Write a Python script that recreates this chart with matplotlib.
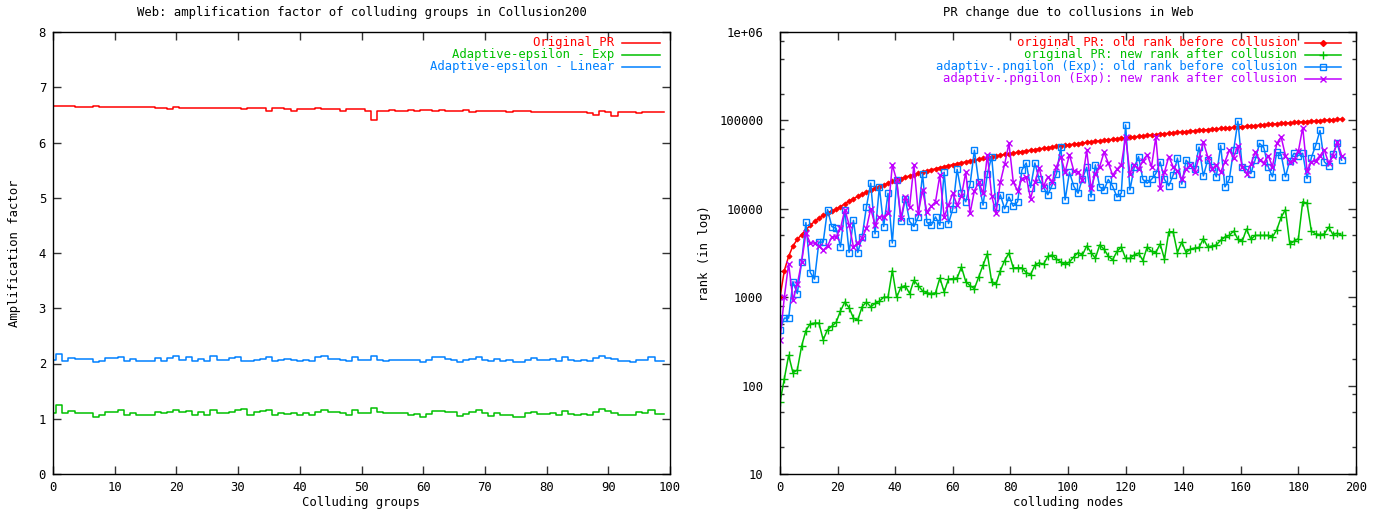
import numpy as np
import matplotlib
matplotlib.use("Agg")
import matplotlib.pyplot as plt
from matplotlib.ticker import FixedLocator, FixedFormatter, NullFormatter

plt.rcParams['font.family'] = ['DejaVu Sans Mono', 'DejaVu Sans']
FS = 8.8

# ---------------- Left chart data ----------------
groups = np.arange(100)
amp_original = [6.66, 6.66, 6.66, 6.66, 6.645, 6.645, 6.645, 6.66, 6.645, 6.645,
                6.645, 6.645, 6.645, 6.645, 6.645, 6.645, 6.645, 6.62, 6.62, 6.60,
                6.645, 6.62, 6.62, 6.62, 6.62, 6.62, 6.62, 6.62, 6.62, 6.62,
                6.62, 6.60, 6.62, 6.62, 6.62, 6.575, 6.62, 6.62, 6.60, 6.575,
                6.60, 6.60, 6.60, 6.62, 6.60, 6.60, 6.60, 6.575, 6.60, 6.60,
                6.60, 6.575, 6.40, 6.575, 6.575, 6.59, 6.575, 6.575, 6.59, 6.575,
                6.59, 6.59, 6.575, 6.59, 6.575, 6.575, 6.575, 6.59, 6.56, 6.575,
                6.575, 6.575, 6.575, 6.575, 6.56, 6.575, 6.575, 6.575, 6.56, 6.56,
                6.56, 6.545, 6.56, 6.56, 6.56, 6.56, 6.56, 6.54, 6.50, 6.57,
                6.545, 6.48, 6.555, 6.555, 6.555, 6.54, 6.555, 6.555, 6.555, 6.555]
amp_exp = [1.10, 1.25, 1.10, 1.14, 1.10, 1.10, 1.10, 1.04, 1.07, 1.12,
           1.12, 1.15, 1.06, 1.10, 1.07, 1.06, 1.06, 1.12, 1.10, 1.13,
           1.16, 1.13, 1.14, 1.07, 1.12, 1.07, 1.16, 1.10, 1.10, 1.13,
           1.16, 1.18, 1.07, 1.12, 1.14, 1.16, 1.06, 1.10, 1.08, 1.10,
           1.06, 1.10, 1.06, 1.13, 1.16, 1.12, 1.12, 1.10, 1.06, 1.15,
           1.10, 1.10, 1.19, 1.12, 1.11, 1.10, 1.10, 1.10, 1.07, 1.08,
           1.04, 1.08, 1.14, 1.14, 1.13, 1.12, 1.05, 1.08, 1.12, 1.15,
           1.10, 1.05, 1.10, 1.06, 1.07, 1.04, 1.04, 1.10, 1.13, 1.08,
           1.08, 1.10, 1.06, 1.14, 1.08, 1.07, 1.08, 1.07, 1.13, 1.18,
           1.14, 1.10, 1.06, 1.06, 1.06, 1.12, 1.11, 1.16, 1.08, 1.08]
amp_linear = [2.06, 2.18, 2.05, 2.10, 2.08, 2.08, 2.08, 2.02, 2.05, 2.10,
              2.10, 2.11, 2.04, 2.08, 2.05, 2.04, 2.04, 2.10, 2.05, 2.10,
              2.13, 2.06, 2.11, 2.05, 2.08, 2.05, 2.13, 2.06, 2.06, 2.10,
              2.11, 2.05, 2.04, 2.06, 2.08, 2.11, 2.04, 2.06, 2.08, 2.06,
              2.04, 2.06, 2.04, 2.11, 2.13, 2.08, 2.08, 2.06, 2.05, 2.11,
              2.06, 2.06, 2.13, 2.06, 2.05, 2.06, 2.055, 2.055, 2.055, 2.055,
              2.02, 2.06, 2.11, 2.11, 2.08, 2.06, 2.02, 2.06, 2.08, 2.11,
              2.06, 2.04, 2.08, 2.05, 2.06, 2.02, 2.02, 2.06, 2.10, 2.06,
              2.06, 2.08, 2.04, 2.11, 2.06, 2.05, 2.06, 2.05, 2.10, 2.13,
              2.10, 2.08, 2.05, 2.05, 2.02, 2.06, 2.06, 2.11, 2.05, 2.05]

# ---------------- Right chart data ----------------
nodes = np.arange(0, 196, 1.5)   # colluding node index, 131 points
rank_orig_old = [1000, 2000, 2900, 3800, 4500, 5100, 5800, 6500, 7200, 7800,
                 8400, 8900, 9400, 9900, 10600, 11400, 12200, 13000, 13800, 14600,
                 15400, 16200, 17000, 17800, 18600, 19500, 20400, 21200, 22000, 22800,
                 23600, 24400, 25200, 26000, 26800, 27600, 28400, 29200, 30000, 30800,
                 31600, 32400, 33200, 34000, 34800, 35600, 36400, 37200, 38000, 38800,
                 39600, 40400, 41200, 42000, 42800, 43600, 44400, 45200, 46000, 46800,
                 47600, 48400, 49200, 50000, 50800, 51600, 52300, 53100, 53900, 54700,
                 55500, 56300, 57100, 57900, 58700, 59500, 60300, 61100, 61900, 62700,
                 63500, 64300, 65100, 65900, 66700, 67500, 68300, 69100, 69900, 70700,
                 71500, 72300, 73100, 73900, 74700, 75500, 76300, 77100, 77900, 78700,
                 79500, 80300, 81100, 81900, 82700, 83500, 84300, 85100, 85900, 86700,
                 87500, 88300, 89100, 89900, 90700, 91500, 92300, 93100, 93900, 94700,
                 95500, 96300, 97100, 97900, 98700, 99500, 100300, 101100, 101900, 102700,
                 103500]
rank_orig_new = [65, 120, 220, 140, 150, 280, 420, 500, 510, 510,
                 330, 430, 470, 520, 700, 880, 760, 580, 550, 780,
                 880, 780, 850, 900, 1000, 1000, 2000, 1000, 1300, 1350,
                 1100, 1550, 1350, 1180, 1120, 1100, 1120, 1650, 1150, 1600,
                 1620, 1650, 2200, 1500, 1350, 1250, 1700, 2300, 3100, 1500,
                 1400, 2000, 2600, 3150, 2150, 2150, 2150, 1900, 1800, 2300,
                 2450, 2350, 2900, 3000, 2700, 2500, 2350, 2500, 2850, 3200,
                 3000, 3800, 3200, 2750, 3900, 3500, 2900, 2650, 3300, 3700,
                 2750, 2750, 3000, 3150, 2600, 3700, 3300, 3200, 4000, 2700,
                 5500, 5500, 3200, 4200, 3200, 3500, 3600, 3650, 4600, 3700,
                 3800, 3900, 4400, 4800, 5000, 5600, 4500, 4300, 5900, 4500,
                 5000, 5000, 5000, 5000, 4800, 5800, 8000, 9800, 4000, 4300,
                 4600, 12000, 11500, 5600, 5200, 5100, 5200, 6200, 5100, 5300,
                 5000]
rank_adapt_old = [430, 580, 580, 1500, 1100, 2500, 7000, 1900, 1600, 4200,
                  4200, 9800, 6300, 6000, 3700, 9800, 3200, 7400, 3200, 4800,
                  10500, 19500, 5200, 17700, 6300, 15000, 4100, 21000, 7200, 13000,
                  7200, 6300, 8100, 25000, 7000, 6500, 8100, 6500, 26000, 6800,
                  10000, 28000, 15000, 12000, 19000, 46000, 20000, 11000, 25000, 39000,
                  10500, 14400, 10000, 13600, 10700, 12000, 27500, 33000, 17400, 33000,
                  21500, 17400, 14400, 18600, 25000, 50000, 12600, 26000, 18000, 15000,
                  22000, 29500, 13600, 31500, 17700, 16300, 21500, 18000, 13600, 15000,
                  89000, 16300, 29500, 39000, 21500, 19500, 21500, 25000, 34000, 21500,
                  18200, 24000, 37500, 19000, 35500, 31500, 28000, 50000, 23500, 35500,
                  30000, 23000, 52000, 17700, 21500, 46000, 98000, 29500, 28000, 25000,
                  36000, 55000, 49000, 30000, 23000, 43500, 41000, 23000, 35000, 42500,
                  40000, 42500, 22000, 38000, 52000, 77000, 34000, 30500, 42000, 55000,
                  35500]
rank_adapt_new = [330, 1000, 2400, 930, 1400, 2500, 5300, 4100, 4100, 3800,
                  3400, 3800, 4800, 4800, 6000, 9800, 6600, 3700, 4100, 4700,
                  6000, 10000, 6600, 8100, 8100, 9000, 31500, 21000, 7900, 13600,
                  10500, 31500, 8900, 16300, 9200, 10700, 12000, 24000, 8100, 11000,
                  15000, 11000, 14000, 26000, 8900, 16000, 20000, 15000, 41000, 14000,
                  8900, 20000, 32000, 55000, 20000, 16000, 22000, 23000, 13000, 20000,
                  29000, 18000, 23000, 20000, 30000, 39000, 26000, 41000, 27000, 26000,
                  21000, 46000, 17000, 25000, 30000, 43500, 33000, 24000, 28000, 31500,
                  65000, 25000, 31500, 28000, 35000, 41000, 30000, 65000, 17000, 26000,
                  39000, 30000, 27000, 21500, 28000, 31500, 26000, 38000, 57000, 39000,
                  28000, 31500, 26000, 34000, 46000, 38000, 52000, 30000, 25000, 32000,
                  43500, 36000, 33000, 40000, 30000, 55000, 65000, 40000, 34000, 36000,
                  45000, 83000, 27000, 34000, 35000, 40000, 46000, 33000, 40000, 57000,
                  40000]

RED, GREEN, BLUE, PURPLE = '#ff0000', '#00c000', '#0080ff', '#c000ff'

fig = plt.figure(figsize=(13.9, 5.15), dpi=100)
W, H = 1390.0, 515.0

def add_axes(x0, x1, y0, y1):
    return fig.add_axes([x0 / W, 1 - y1 / H, (x1 - x0) / W, (y1 - y0) / H])

axL = add_axes(53, 670, 32, 474)
axR = add_axes(780, 1356, 32, 474)

def style(ax, ypad):
    for s in ax.spines.values():
        s.set_linewidth(1.0)
        s.set_color('black')
    ax.tick_params(which='both', direction='in', top=True, right=True,
                   labelsize=FS, width=1.0, color='#333333')
    ax.tick_params(which='major', length=6)
    ax.tick_params(which='minor', length=3)
    ax.tick_params(axis='x', pad=5)
    ax.tick_params(axis='y', pad=ypad)

# ---------------- Left chart ----------------
lw = 1.1
axL.step(groups, amp_original, where='mid', color=RED, lw=lw)
axL.step(groups, amp_exp, where='mid', color=GREEN, lw=lw)
axL.step(groups, amp_linear, where='mid', color=BLUE, lw=lw)
axL.set_xlim(0, 100)
axL.set_ylim(0, 8)
axL.set_xticks(np.arange(0, 101, 10))
axL.set_yticks(np.arange(0, 9, 1))
style(axL, 5)
axL.text(0.5, (474 - 13) / 442, 'Web: amplification factor of colluding groups in Collusion200',
         transform=axL.transAxes, ha='center', va='center', fontsize=FS)
axL.set_xlabel('Colluding groups', fontsize=FS)
axL.set_ylabel('Amplification factor', fontsize=FS)
axL.xaxis.set_label_coords(0.5, (474 - 496) / 442)
axL.yaxis.set_label_coords((21 - 53) / 617, 0.5)

def legend_entry(ax, axw, x0px, txt_right, l0, l1, ypx, label, color, marker=None, ms=5, filled=False):
    ty = (474 - ypx) / 442
    ax.text((txt_right - x0px) / axw, ty, label, color=color, ha='right', va='center',
            fontsize=FS, transform=ax.transAxes)
    ax.plot([(l0 - x0px) / axw, (l1 - x0px) / axw], [ty, ty], color=color, lw=lw,
            transform=ax.transAxes, clip_on=False)
    if marker:
        ax.plot([((l0 + l1) / 2 - x0px) / axw], [ty], marker=marker, ms=ms, color=color,
                mfc=color if filled else 'none', mew=1.0, transform=ax.transAxes, clip_on=False)

legend_entry(axL, 617, 53, 614, 622, 660, 42.5, 'Original PR', RED)
legend_entry(axL, 617, 53, 614, 622, 660, 54.5, 'Adaptive-epsilon - Exp', GREEN)
legend_entry(axL, 617, 53, 614, 622, 660, 66.5, 'Adaptive-epsilon - Linear', BLUE)

# ---------------- Right chart ----------------
axR.set_yscale('log')
axR.plot(nodes, rank_orig_old, color=RED, lw=lw, marker='D', ms=2.6, mew=0.6, mfc=RED)
axR.plot(nodes, rank_orig_new, color=GREEN, lw=lw, marker='+', ms=6, mew=1.0)
axR.plot(nodes, rank_adapt_old, color=BLUE, lw=lw, marker='s', ms=4.5, mew=1.0, mfc='none')
axR.plot(nodes, rank_adapt_new, color=PURPLE, lw=lw, marker='x', ms=4.5, mew=1.0)
axR.set_xlim(0, 200)
axR.set_ylim(10, 1e6)
axR.set_xticks(np.arange(0, 201, 20))
majors = [10, 100, 1000, 10000, 100000, 1000000]
axR.yaxis.set_major_locator(FixedLocator(majors))
axR.yaxis.set_major_formatter(FixedFormatter(['10', '100', '1000', '10000', '100000', '1e+06']))
minors = [m * 10 ** k for k in range(1, 6) for m in (2, 5, 8)]
axR.yaxis.set_minor_locator(FixedLocator(minors))
axR.yaxis.set_minor_formatter(NullFormatter())
style(axR, 12)
axR.text(0.5, (474 - 13) / 442, 'PR change due to collusions in Web',
         transform=axR.transAxes, ha='center', va='center', fontsize=FS)
axR.set_xlabel('colluding nodes', fontsize=FS)
axR.set_ylabel('rank (in log)', fontsize=FS)
axR.xaxis.set_label_coords(0.5, (474 - 496) / 442)
axR.yaxis.set_label_coords((711 - 780) / 576, 0.5)

legend_entry(axR, 576, 780, 1297, 1305, 1341, 42.5, 'original PR: old rank before collusion', RED, 'D', 3, True)
legend_entry(axR, 576, 780, 1297, 1305, 1341, 54.5, 'original PR: new rank after collusion', GREEN, '+', 6)
legend_entry(axR, 576, 780, 1297, 1305, 1341, 66.5, 'adaptiv-.pngilon (Exp): old rank before collusion', BLUE, 's', 4.5)
legend_entry(axR, 576, 780, 1297, 1305, 1341, 78.5, 'adaptiv-.pngilon (Exp): new rank after collusion', PURPLE, 'x', 4.5)

fig.savefig('out.png', dpi=100)
